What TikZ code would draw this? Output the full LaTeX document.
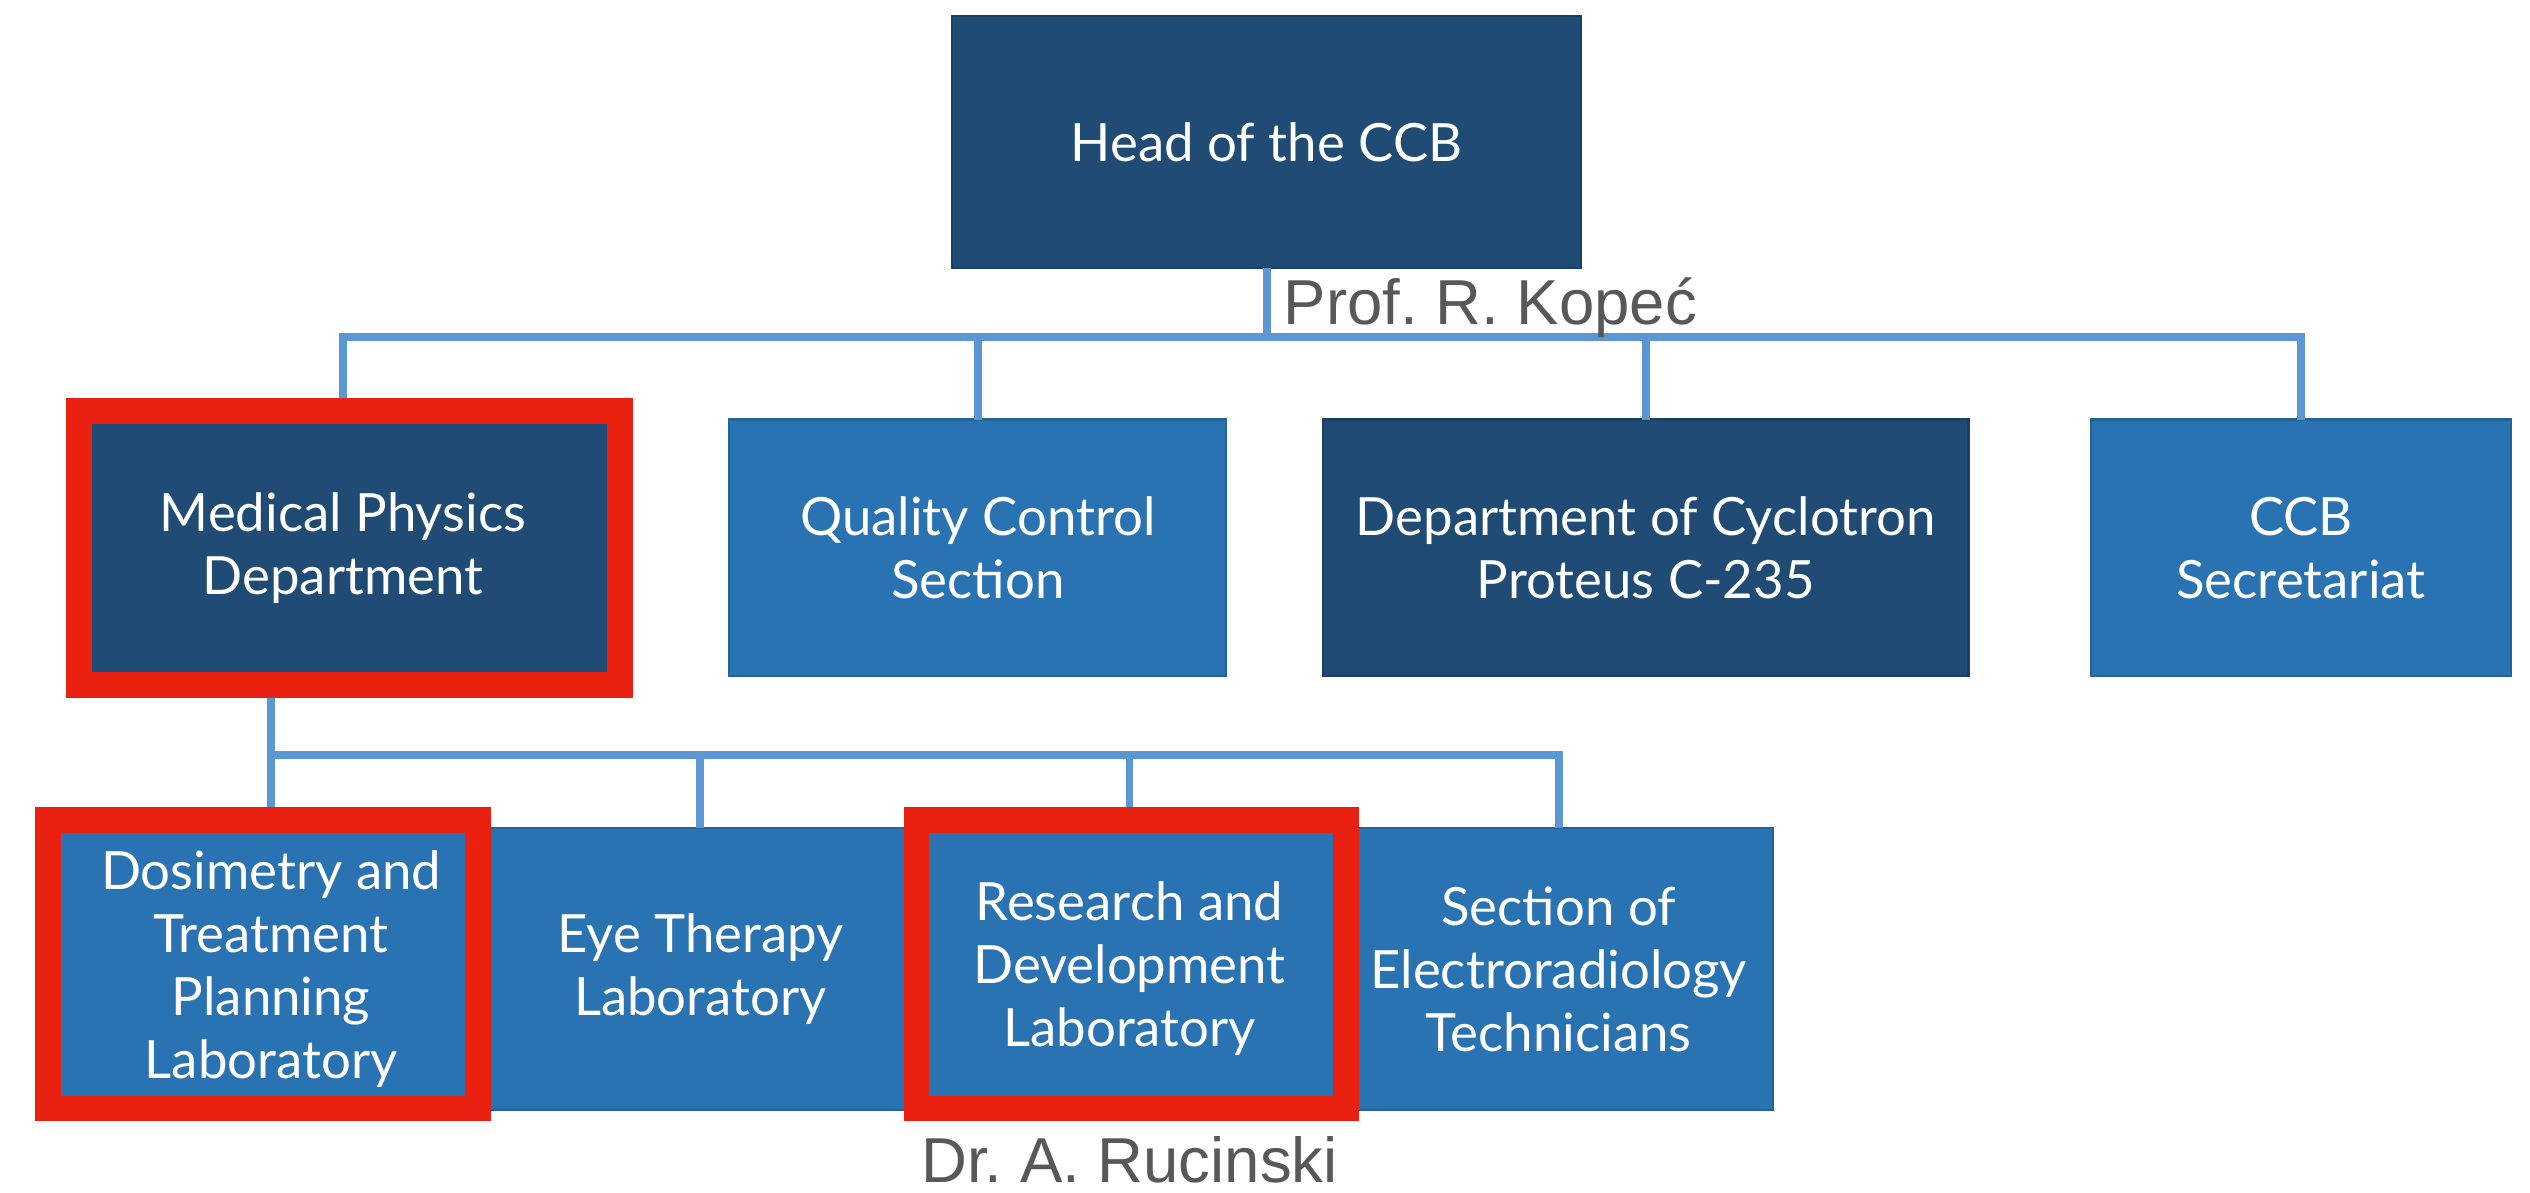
\documentclass[tikz,border=0pt]{standalone}
\usepackage{fontspec}
\usetikzlibrary{positioning,fit,calc}

\newfontfamily\lato{Lato}
\newfontfamily\helv{Liberation Sans}
\newcommand{\boxfont}{\lato\fontsize{9.3}{11.1}\selectfont}
\newcommand{\namefont}{\helv\fontsize{11.2}{13}\selectfont\frenchspacing}

\definecolor{navy}{RGB}{31,75,116}
\definecolor{midblue}{RGB}{42,115,179}
\definecolor{linkblue}{RGB}{91,152,211}
\definecolor{hlred}{RGB}{234,32,16}
\definecolor{namegray}{RGB}{88,88,88}

\begin{document}
\begin{tikzpicture}[
  font=\boxfont,
  node distance = 0.6cm and 0.74cm,
  %% Box styles
  unit/.style   = {fill=#1, draw=#1!85!black, line width=0.4pt, text=white,
                   align=center, inner sep=0pt, outer sep=0pt},
  head/.style   = {unit=navy, minimum width=3.90cm, minimum height=1.56cm},
  dept/.style   = {unit=#1, minimum height=1.59cm},
  lab/.style    = {unit=midblue, minimum width=2.66cm, minimum height=1.75cm},
  hl/.style     = {draw=hlred, line width=1.6mm, inner sep=0pt, outer sep=0pt},
  who/.style    = {font=\namefont, text=namegray, inner sep=0pt},
  conn/.style   = {draw=linkblue, line width=1.4pt},
]
\useasboundingbox (0,0) rectangle (15.68,-7.39);

%% ── Row 0: Head ────────────────────────────────────────────────
\node[head] (head) at (7.85,-0.88) {Head of the CCB};

%% ── Row 1: Departments ─────────────────────────────────────────
\node[dept=navy, minimum width=3.31cm] (med) at (2.125,-3.395)
  {Medical Physics\\Department};
\node[dept=midblue, minimum width=3.08cm, right=0.74cm of med] (qc)
  {Quality Control\\Section};
\node[dept=navy, minimum width=4.00cm, right=0.60cm of qc] (cyc)
  {Department of Cyclotron\\Proteus C-235};
\node[dept=midblue, minimum width=2.60cm, right=0.76cm of cyc] (sec)
  {CCB\\Secretariat};

%% ── Row 2: Laboratories ────────────────────────────────────────
\node[lab] (dos) at (1.68,-6.005)
  {Dosimetry and\\Treatment\\Planning\\Laboratory};
\node[lab, right=0pt of dos] (eye) {Eye Therapy\\Laboratory};
\node[lab, right=0pt of eye] (rd)  {Research and\\Development\\Laboratory};
\node[lab, right=0pt of rd]  (tech) {Section of\\Electroradiology\\Technicians};

%% ── Connectors: head → departments ─────────────────────────────
\coordinate (busT) at ($(head.south)+(0,-0.43)$);
\draw[conn] (head.south) -- (busT);
\draw[conn] (med.north) |- (busT) -| (sec.north);
\draw[conn] (qc.north)  -- (qc.north |- busT);
\draw[conn] (cyc.north) -- (cyc.north |- busT);

%% ── Connectors: department → laboratories ──────────────────────
\coordinate (busM) at ($(dos.north)+(0,0.45)$);
\draw[conn] (med.south -| dos.north) -- (dos.north);
\draw[conn] (busM) -| (tech.north);
\draw[conn] (eye.north) -- (eye.north |- busM);
\draw[conn] (rd.north)  -- (rd.north |- busM);

%% ── Highlight frames ───────────────────────────────────────────
\node[hl, fit=(med), inner xsep=0.02cm, inner ysep=0.055cm, xshift=0.04cm] (medF) {};
\node[hl, fit=(dos), inner ysep=0.02cm, xshift=-0.05cm, yshift=0.03cm] (dosF) {};
\node[hl, fit=(rd),  inner ysep=0.02cm, xshift=0.01cm, yshift=0.03cm] (rdF) {};

%% ── Names ──────────────────────────────────────────────────────
\node[who, anchor=base west] (kopec) at ($(head.south)+(0.10,-0.35)$) {Prof. R. Kopeć};
\node[who, anchor=base] (rucinski) at ($(rd.south)+(0,-0.45)$) {Dr. A. Rucinski};

\end{tikzpicture}
\end{document}
